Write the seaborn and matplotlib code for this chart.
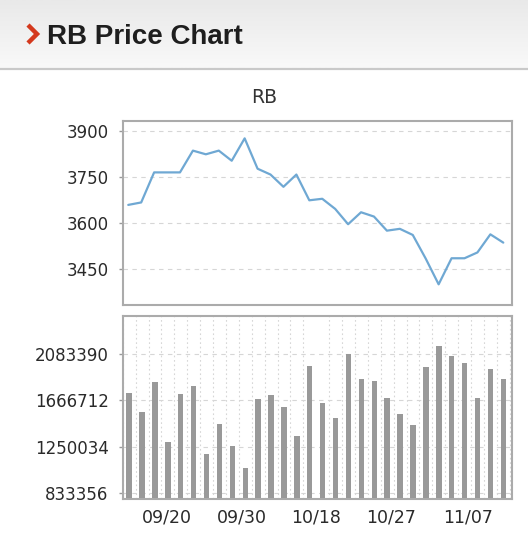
import numpy as np
import matplotlib.pyplot as plt
from matplotlib.colors import LinearSegmentedColormap
from matplotlib.lines import Line2D
import seaborn as sns


price = [3658, 3666, 3764, 3764, 3764, 3835, 3823, 3835, 3802, 3875,
         3776, 3757, 3717, 3757, 3673, 3678, 3645, 3595, 3634, 3620,
         3574, 3580, 3560, 3483, 3399, 3484, 3484, 3503, 3562, 3535]
volume = [1736950, 1565330, 1836400, 1291230, 1724960, 1800260, 1179790, 1456890, 1258100, 1059310,
          1676770, 1712910, 1610510, 1348460, 1977970, 1646650, 1511110, 2089410, 1860500, 1839420,
          1688820, 1544240, 1447860, 1968930, 2158690, 2065320, 2002070, 1688820, 1947850, 1860500]
date_labels = ['09/20', '09/30', '10/18', '10/27', '11/07']
price_ticks = [3450, 3600, 3750, 3900]
volume_ticks = [833356, 1250034, 1666712, 2083390]

W, H = 528, 560
sns.set_style("white")
plt.rcParams['font.family'] = ['DejaVu Sans']

fig = plt.figure(figsize=(W / 100, H / 100), dpi=100)

# header band
hdr = fig.add_axes([0, 1 - 68 / H, 1, 68 / H])
grad = np.linspace(0, 1, 64).reshape(-1, 1)
hdr.imshow(grad, aspect='auto', extent=[0, 1, 0, 1],
           cmap=LinearSegmentedColormap.from_list('hdr', ['#e9e9e9', '#f9f9f9']))
hdr.axis('off')
fig.add_artist(Line2D([0, 1], [1 - 69 / H, 1 - 69 / H], transform=fig.transFigure,
                      color='#c9c9c9', lw=1.6))
fig.add_artist(Line2D([28 / W, 37 / W, 28 / W], [1 - 25 / H, 1 - 34 / H, 1 - 43 / H],
                      transform=fig.transFigure, color='#d4391d', lw=3.2,
                      solid_joinstyle='miter', solid_capstyle='butt'))
fig.text(47 / W, 1 - 43.5 / H, 'RB Price Chart', fontsize=20, fontweight='bold',
         family='Liberation Sans', color='#1e1e1e', va='baseline')
fig.text(0.5, 1 - 103 / H, 'RB', ha='center', va='baseline', fontsize=13.5, color='#333333')

left, width = 122.7 / W, 389 / W
ax1 = fig.add_axes([left, (H - 305) / H, width, 184 / H])
ax2 = fig.add_axes([left, (H - 499) / H, width, 183 / H])

x = np.arange(len(price))
sns.lineplot(x=x, y=price, ax=ax1, color='#6fa8d3', lw=1.6)
sns.barplot(x=x, y=volume, ax=ax2, color='#999999', width=0.42, saturation=1,
            errorbar=None, linewidth=0)

dash = (0, (4, 4))
for ax in (ax1, ax2):
    ax.set_xlim(-0.43, 29.65)
    ax.set_axisbelow(True)
    ax.grid(axis='y', which='major', ls=dash, color='#d6d6d6', lw=0.8)
    ax.grid(axis='x', which='major', visible=False)
    for s in ax.spines.values():
        s.set_color('#ababab')
        s.set_linewidth(1.5)
    ax.tick_params(axis='y', length=3.2, width=1, color='#999999', pad=7,
                   labelsize=12, labelcolor='#2a2a2a', left=True)
    ax.set_xlabel('')
    ax.set_ylabel('')

ax1.set_ylim(3331.6, 3931.6)
ax1.set_yticks(price_ticks)
ax1.set_xticks([])

ax2.set_ylim(776500, 2429300)
ax2.set_yticks(volume_ticks)
ax2.set_yticklabels([str(v) for v in volume_ticks])
ax2.set_xticks([2.9, 8.7, 14.5, 20.3, 26.3])
ax2.set_xticklabels(date_labels)
ax2.set_xticks(np.arange(-0.5, 30, 1), minor=True)
ax2.tick_params(axis='x', which='both', length=0, pad=7, labelsize=12.5, labelcolor='#2a2a2a')
ax2.grid(axis='x', which='minor', ls=(0, (1.5, 2.5)), color='#d6d6d6', lw=0.8)

fig.savefig('out.png', dpi=100)
